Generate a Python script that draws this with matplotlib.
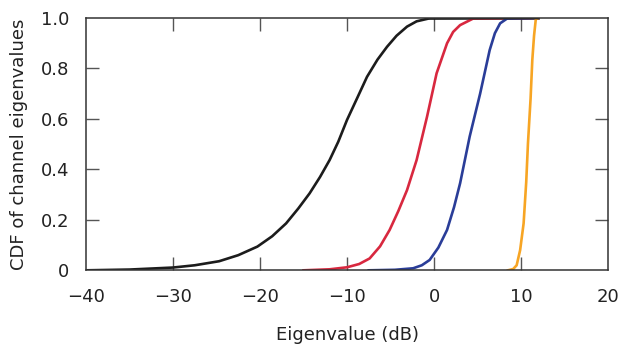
import matplotlib.pyplot as plt

plt.rcParams['font.family'] = ['DejaVu Sans']

# CDF curves (x in dB, y = CDF)
black_x = [-40, -35, -30, -27.5, -24.7, -22.5, -20.3, -18.6, -17.0, -15.6, -14.3, -13.1, -12.0,
           -11.0, -10.0, -8.8, -7.7, -6.5, -5.4, -4.3, -3.1, -2.0, -0.5, 12]
black_y = [0, 0.003, 0.011, 0.02, 0.036, 0.06, 0.094, 0.135, 0.186, 0.245, 0.305, 0.37, 0.437,
           0.51, 0.596, 0.685, 0.767, 0.835, 0.886, 0.93, 0.966, 0.987, 0.999, 1.0]

red_x = [-15, -12, -10, -8.6, -7.4, -6.2, -5.1, -4.1, -3.1, -2.0, -0.8, 0.3, 1.5, 2.2, 3.0, 4.5, 12]
red_y = [0, 0.004, 0.012, 0.025, 0.047, 0.095, 0.16, 0.235, 0.318, 0.437, 0.609, 0.781, 0.9,
         0.945, 0.972, 0.998, 1.0]

blue_x = [-7.5, -4.5, -2.4, -1.4, -0.5, 0.5, 1.5, 2.3, 3.0, 4.1, 5.3, 6.4, 7.0, 7.6, 8.4, 12]
blue_y = [0, 0.002, 0.008, 0.02, 0.041, 0.09, 0.16, 0.25, 0.345, 0.53, 0.70, 0.873, 0.94, 0.979,
          0.998, 1.0]

orange_x = [8.5, 9.1, 9.5, 9.9, 10.3, 10.6, 10.8, 11.1, 11.3, 11.5, 11.7, 12]
orange_y = [0, 0.005, 0.02, 0.08, 0.186, 0.35, 0.503, 0.68, 0.834, 0.93, 0.995, 1.0]

xticks = [-40, -30, -20, -10, 0, 10, 20]
yticks = [0, 0.2, 0.4, 0.6, 0.8, 1.0]
ylabels = ['0', '0.2', '0.4', '0.6', '0.8', '1.0']

fig = plt.figure(figsize=(6.25, 3.47), dpi=100)
ax = fig.add_axes([0.1376, 0.221, 0.8352, 0.727])

ax.plot(black_x, black_y, color='#1c1c1c', lw=1.9)
ax.plot(red_x, red_y, color='#d8283f', lw=1.9)
ax.plot(blue_x, blue_y, color='#2a3d98', lw=1.9)
ax.plot(orange_x, orange_y, color='#f7a524', lw=1.9)
ax.plot(black_x[-2:], black_y[-2:], color='#1c1c1c', lw=1.9)

ax.set_xlim(-40, 20)
ax.set_ylim(0, 1.0)
ax.set_xticks(xticks)
ax.set_yticks(yticks)
ax.set_yticklabels(ylabels)
ax.xaxis.remove_overlapping_locs = False
ax.yaxis.remove_overlapping_locs = False
ax.set_xticks(xticks[1:-1], minor=True)
ax.set_yticks(yticks[1:-1], minor=True)
ax.tick_params(which='major', length=0, labelsize=13, colors='#222222')
ax.tick_params(axis='x', which='major', pad=13)
ax.tick_params(axis='y', which='major', pad=12)
ax.tick_params(which='minor', direction='in', length=9.5, width=1.0, color='#555555',
               top=True, right=True)

for s in ax.spines.values():
    s.set_color('#333333')
    s.set_linewidth(1.1)

ax.set_xlabel('Eigenvalue (dB)', fontsize=13, color='#222222', labelpad=14)
ax.set_ylabel('CDF of channel eigenvalues', fontsize=13, color='#222222', labelpad=9)

fig.savefig('out.png', dpi=100)
